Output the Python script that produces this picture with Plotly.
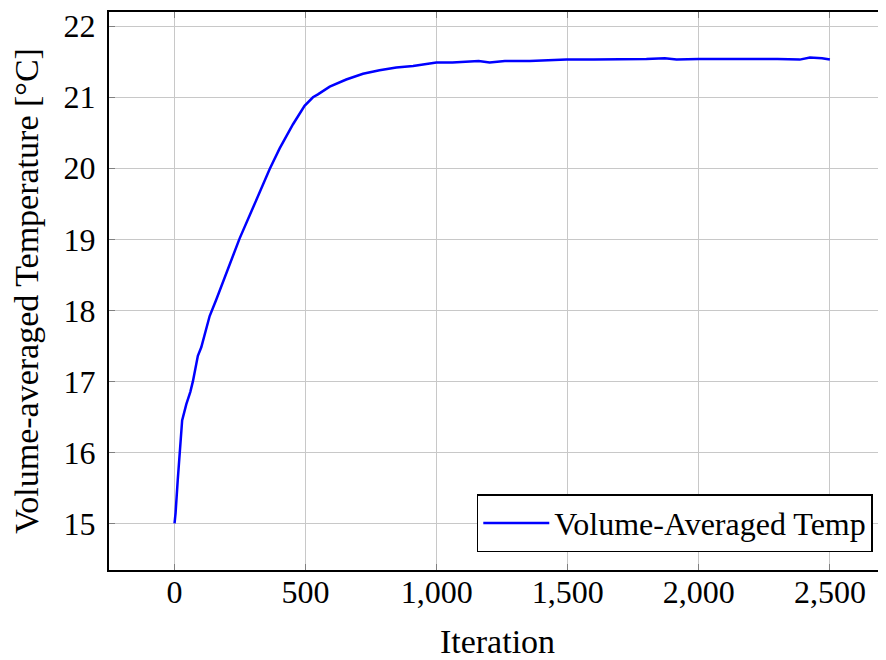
import plotly.graph_objects as go

iterations = [0, 4, 12, 19, 24, 29, 45, 60, 70, 89, 102, 115, 134, 159, 200, 248, 300, 363, 401, 452,
              496, 528, 547, 592, 655, 719, 782, 846, 910, 960, 999, 1060, 1126, 1160, 1202, 1260,
              1355, 1444, 1495, 1600, 1724, 1800, 1870, 1915, 2000, 2100, 2208, 2300, 2385, 2424,
              2470, 2500]
temperature = [15.0, 15.15, 15.6, 16.02, 16.3, 16.45, 16.68, 16.85, 17.0, 17.36, 17.48, 17.66, 17.92,
               18.15, 18.55, 19.01, 19.45, 19.99, 20.28, 20.62, 20.88, 21.0, 21.04, 21.15, 21.25,
               21.33, 21.38, 21.42, 21.44, 21.47, 21.49, 21.49, 21.51, 21.51, 21.49, 21.51, 21.51,
               21.52, 21.53, 21.53, 21.53, 21.54, 21.55, 21.53, 21.54, 21.54, 21.55, 21.54, 21.53,
               21.56, 21.55, 21.53]
x_ticks = [0, 500, 1000, 1500, 2000, 2500]
y_ticks = [15, 16, 17, 18, 19, 20, 21, 22]

FONT = "Liberation Serif"

fig = go.Figure()
fig.add_trace(go.Scatter(x=iterations, y=temperature, mode="lines",
                         name="Volume-Averaged Temp",
                         line=dict(color="#0000ff", width=2.5)))

fig.update_layout(
    width=878, height=652,
    margin=dict(l=101, r=0, t=1, b=90),
    paper_bgcolor="white", plot_bgcolor="white",
    font=dict(family=FONT, size=32, color="black"),
    showlegend=True,
    legend=dict(x=0.983, y=0.032, xanchor="right", yanchor="bottom",
                bordercolor="black", borderwidth=1.5, bgcolor="white",
                itemwidth=66,
                font=dict(family=FONT, size=32)),
    xaxis=dict(range=[-250, 2714], tickvals=x_ticks, tickformat=",d",
               showgrid=True, gridcolor="#c8c8c8", gridwidth=1,
               showline=True, linecolor="black", linewidth=2, mirror="ticks",
               ticks="inside", ticklen=6, tickcolor="#808080",
               zeroline=False, ticklabelstandoff=-7,
               title=dict(text="Iteration", standoff=20, font=dict(size=34)),
               tickfont=dict(size=32)),
    yaxis=dict(range=[14.345, 22.2], tickvals=y_ticks,
               showgrid=True, gridcolor="#c8c8c8", gridwidth=1,
               showline=True, linecolor="black", linewidth=2, mirror=False,
               ticks="inside", ticklen=6, tickcolor="#808080",
               zeroline=False, ticklabeloverflow="allow", ticklabelstandoff=5,
               title=dict(text="Volume-averaged Temperature [°C]", standoff=16, font=dict(size=34)),
               tickfont=dict(size=32)),
)

fig.write_html("out.html")
